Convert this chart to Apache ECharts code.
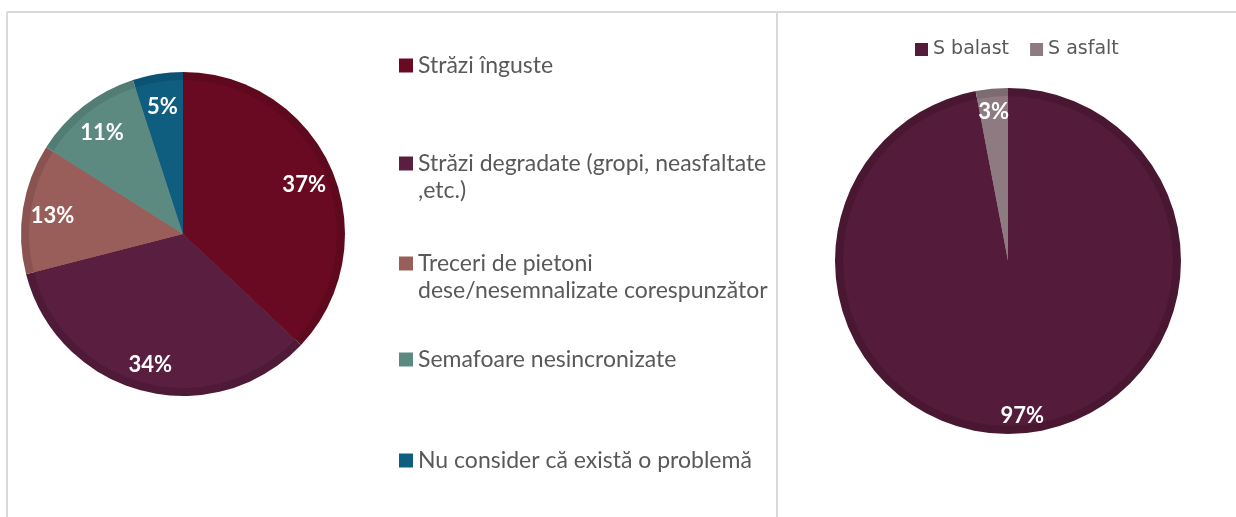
<!DOCTYPE html>
<html>
<head>
<meta charset="utf-8">
<script src="https://cdn.jsdelivr.net/npm/echarts@6/dist/echarts.min.js"></script>
<style>
  html, body { margin: 0; padding: 0; background: #fff; }
  #main { width: 1236px; height: 517px; }
</style>
</head>
<body>
<div id="main"></div>
<script>
// left pie: problems
var problemNames = [
    'Străzi înguste',
    'Străzi degradate (gropi, neasfaltate\n,etc.)',
    'Treceri de pietoni\ndese/nesemnalizate corespunzător',
    'Semafoare nesincronizate',
    'Nu consider că există o problemă'
];
var problemValues = [37, 34, 13, 11, 5];
var problemColors = ['#6a0a22', '#5a1f40', '#9a5e5a', '#5c8a80', '#0f5e80'];
var problemEdges = ['#5e091e', '#4e1a37', '#8a5351', '#537d74', '#0c5373'];

// right pie: road surface
var roadNames = ['S balast', 'S asfalt'];
var roadValues = [97, 3];
var roadColors = ['#541b3a', '#8e7b82'];
var roadEdges = ['#4a1733', '#7d6b72'];

var labelFont = { color: '#fff', fontFamily: 'Lato', fontWeight: 'bold', fontSize: 22 };

function pieData(names, values, colors) {
    return names.map(function (n, i) {
        return { name: n, value: values[i], itemStyle: { color: colors[i] } };
    });
}

function pieSeries(names, values, center, r, colors, edges, labelR) {
    return [{
        type: 'pie', center: center, radius: [0, r], startAngle: 90, clockwise: true,
        silent: true, label: { show: false }, labelLine: { show: false },
        data: pieData(names, values, edges)
    }, {
        type: 'pie', center: center, radius: [0, r - 8], startAngle: 90, clockwise: true,
        silent: true, label: { show: false }, labelLine: { show: false },
        legendHoverLink: false,
        data: pieData(names, values, colors)
    }, {
        // transparent ring that only carries the percentage labels
        type: 'pie', center: center, radius: labelR, startAngle: 90, clockwise: true,
        silent: true, labelLine: { show: false },
        itemStyle: { color: 'rgba(0,0,0,0)' },
        label: Object.assign({ show: true, position: 'inside', formatter: '{c}%', offset: [0, 3] }, labelFont),
        data: names.map(function (n, i) { return { name: n + ' ', value: values[i] }; })
    }];
}

// left legend: one block per item so spacing follows the picture
var legendTops = [52, 123, 223, 346, 447];
var legends = problemNames.map(function (n, i) {
    var twoLine = n.indexOf('\n') >= 0;
    return {
        orient: 'vertical', left: 399, top: legendTops[i], padding: 0,
        itemWidth: 14, itemHeight: 14, itemGap: 0, icon: 'rect',
        selectedMode: false,
        // blank first line keeps the icon level with the first text line
        formatter: function (name) { return twoLine ? '\n' + name : name; },
        textStyle: { color: '#595959', fontFamily: 'Lato', fontSize: 23, lineHeight: 27 },
        data: [{ name: n, itemStyle: { color: problemColors[i] } }]
    };
});
legends.push({
    orient: 'horizontal', left: 915, top: 40, padding: 0,
    itemWidth: 13, itemHeight: 13, itemGap: 21, icon: 'rect',
    selectedMode: false,
    textStyle: { color: '#595959', fontFamily: 'DejaVu Sans', fontSize: 19 },
    data: roadNames.map(function (n, i) { return { name: n, itemStyle: { color: roadColors[i] } }; })
});

var chart = echarts.init(document.getElementById('main'));
chart.setOption({
    animation: false,
    legend: legends,
    graphic: [
        { type: 'line', shape: { x1: 7, y1: 12, x2: 1236, y2: 12 }, style: { stroke: '#d9d9d9', lineWidth: 2 } },
        { type: 'line', shape: { x1: 7, y1: 12, x2: 7, y2: 517 }, style: { stroke: '#d9d9d9', lineWidth: 2 } },
        { type: 'line', shape: { x1: 777, y1: 12, x2: 777, y2: 517 }, style: { stroke: '#d9d9d9', lineWidth: 2 } }
    ],
    series: pieSeries(problemNames, problemValues, [183, 234], 162, problemColors, problemEdges, [98, 160])
        .concat(pieSeries(roadNames, roadValues, [1008, 261], 173, roadColors, roadEdges, [126, 173]))
});
</script>
</body>
</html>
